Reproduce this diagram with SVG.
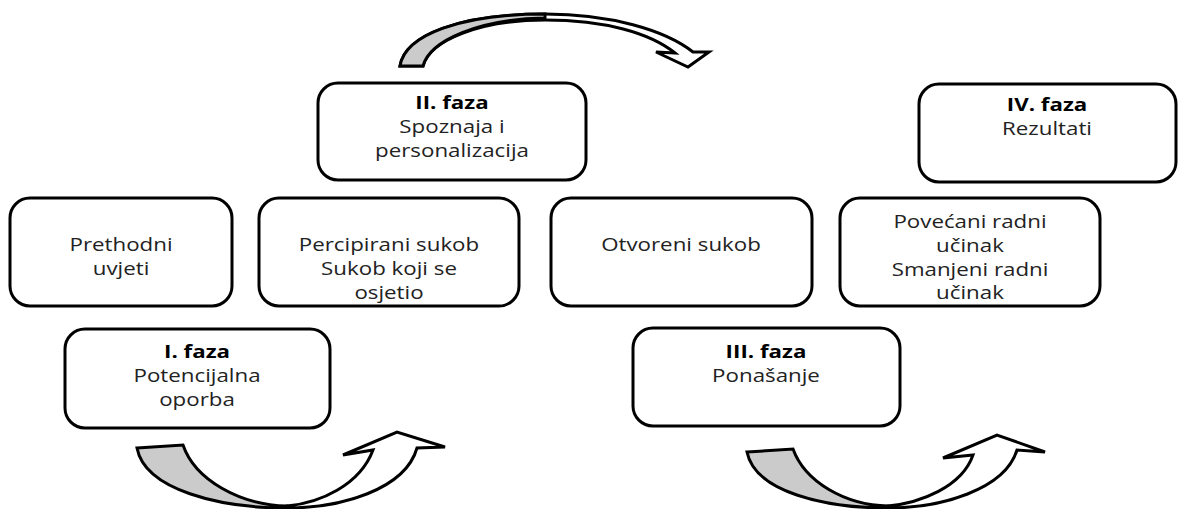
<svg xmlns="http://www.w3.org/2000/svg" width="1179" height="509" viewBox="0 0 1179 509">
<style>
.box{fill:#fff;stroke:#000;stroke-width:3}
.t{font-family:"Open Sans","Liberation Sans",sans-serif;font-size:18px;fill:#222;text-anchor:middle}
.b{font-weight:bold;fill:#000}
.aw{fill:#fff;stroke:#000;stroke-width:3;stroke-linejoin:miter}
.ag{fill:#cbcbcb;stroke:#000;stroke-width:3;stroke-linejoin:miter}
</style>
<rect width="1179" height="509" fill="#fff"/>
<g id="connectors">
  <g id="arrow-top">
    <path class="aw" d="M400,66 C405,35 460,14 545,14 C610,14 665,30 693,52 L709,52 L688,67 L656,52 L675,53 C650,33 605,20 545,20 C480,20 430,40 423,66 Z"/>
    <path class="ag" d="M400,66 C405,35 460,14 545,14 L545,18 C480,19 430,40 423,66 Z"/>
  </g>
  <g id="arrow-bottom-left">
    <path class="aw" d="M287,506 C320,503 360,485 373,450 L343,455 L397,432 L445,447 L417,448 C405,490 340,508 287,508 Z"/>
    <path class="ag" d="M137,448 L183,445 C195,480 240,505 287,506 L287,508 C220,508 145,490 137,448 Z"/>
  </g>
  <g id="arrow-bottom-right">
    <path class="aw" d="M888,506 C920,503 962,487 973,455 L943,458 L997,435 L1045,452 L1017,450 C1005,490 940,508 888,508 Z"/>
    <path class="ag" d="M747,452 L793,449 C805,482 845,505 888,506 L888,508 C825,508 755,492 747,452 Z"/>
  </g>
</g>
<g id="n-prethodni">
  <rect class="box" x="10" y="198" width="222" height="108" rx="20"/>
  <text class="t" transform="translate(121 0) scale(1.24 1)"><tspan x="0" y="251">Prethodni</tspan><tspan x="0" y="275">uvjeti</tspan></text>
</g>
<g id="n-percipirani">
  <rect class="box" x="259" y="198" width="260" height="108" rx="20"/>
  <text class="t" transform="translate(389 0) scale(1.24 1)"><tspan x="0" y="251">Percipirani sukob</tspan><tspan x="0" y="275">Sukob koji se</tspan><tspan x="0" y="299">osjetio</tspan></text>
</g>
<g id="n-otvoreni">
  <rect class="box" x="551" y="198" width="261" height="108" rx="20"/>
  <text class="t" transform="translate(681 0) scale(1.24 1)"><tspan x="0" y="251">Otvoreni sukob</tspan></text>
</g>
<g id="n-povecani">
  <rect class="box" x="840" y="198" width="260" height="108" rx="20"/>
  <text class="t" transform="translate(970 0) scale(1.24 1)"><tspan x="0" y="228">Povećani radni</tspan><tspan x="0" y="252">učinak</tspan><tspan x="0" y="276">Smanjeni radni</tspan><tspan x="0" y="299">učinak</tspan></text>
</g>
<g id="n-faza1">
  <rect class="box" x="65" y="329" width="265" height="99" rx="20"/>
  <text class="t" transform="translate(197 0) scale(1.24 1)"><tspan class="b" x="0" y="358">I. faza</tspan><tspan x="0" y="382">Potencijalna</tspan><tspan x="0" y="406">oporba</tspan></text>
</g>
<g id="n-faza2">
  <rect class="box" x="318" y="83" width="268" height="97" rx="20"/>
  <text class="t" transform="translate(452 0) scale(1.24 1)"><tspan class="b" x="0" y="109">II. faza</tspan><tspan x="0" y="133">Spoznaja i</tspan><tspan x="0" y="157">personalizacija</tspan></text>
</g>
<g id="n-faza3">
  <rect class="box" x="633" y="328" width="267" height="98" rx="20"/>
  <text class="t" transform="translate(766 0) scale(1.24 1)"><tspan class="b" x="0" y="358">III. faza</tspan><tspan x="0" y="382">Ponašanje</tspan></text>
</g>
<g id="n-faza4">
  <rect class="box" x="919" y="84" width="257" height="98" rx="20"/>
  <text class="t" transform="translate(1047 0) scale(1.24 1)"><tspan class="b" x="0" y="111">IV. faza</tspan><tspan x="0" y="135">Rezultati</tspan></text>
</g>
</svg>
